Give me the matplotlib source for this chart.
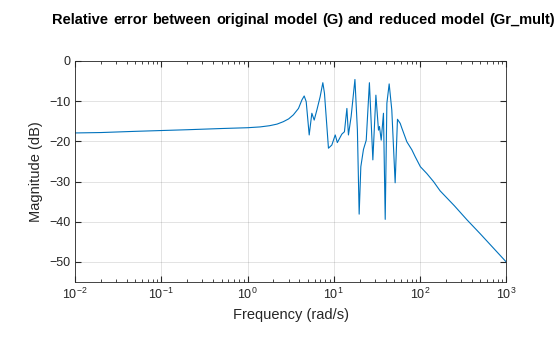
import matplotlib
matplotlib.use("Agg")
import matplotlib.pyplot as plt
import numpy as np
from matplotlib.ticker import LogLocator, NullFormatter

plt.rcParams["font.family"] = ["Liberation Sans", "DejaVu Sans"]
plt.rcParams["mathtext.default"] = "regular"

# Magnitude of the relative error G vs Gr_mult (rad/s, dB)
freq = [0.01, 0.02, 0.05, 0.1, 0.2, 0.5, 1.0, 1.4, 1.8, 2.2, 2.6, 3.0, 3.4,
        3.9, 4.27, 4.54, 4.79, 5.19, 5.57, 5.93, 6.37, 6.95, 7.47, 7.80, 8.68,
        9.50, 10.4, 11.0, 12.4, 13.3, 14.2, 14.8, 15.9, 17.6, 18.8, 19.7, 20.6,
        22.1, 23.8, 25.9, 28.4, 30.8, 33.0, 33.9, 35.5, 37.7, 39.5, 41.3, 43.9,
        47.1, 51.5, 54.8, 58.9, 61.6, 70.4, 80.5, 87.9, 101, 120, 143.5, 171,
        250, 350, 500, 700, 1000]
mag_db = [-17.9, -17.8, -17.5, -17.3, -17.1, -16.8, -16.6, -16.4, -16.1, -15.7,
          -15.1, -14.4, -13.4, -11.8, -9.7, -8.7, -10.1, -18.4, -13.0, -14.7,
          -12.2, -8.9, -5.4, -8.0, -21.7, -20.9, -18.4, -20.3, -18.2, -17.6,
          -11.8, -18.4, -13.8, -4.6, -17.2, -38.1, -26.3, -22.0, -19.7, -5.4,
          -24.6, -8.5, -17.2, -16.3, -19.7, -13.0, -39.4, -10.5, -5.7, -12.2,
          -30.3, -14.5, -15.5, -16.7, -20.1, -22.1, -23.8, -26.3, -28.0, -30.0,
          -32.3, -36.0, -39.5, -43.0, -46.4, -50.0]

title_words = ["Relative", "error", "between", "original", "model", "(G)",
               "and", "reduced", "model", "(Gr_mult)"]

fig = plt.figure(figsize=(5.6, 3.37), dpi=100)
ax = fig.add_axes([0.134, 0.163, 0.770, 0.656])

ax.semilogx(freq, mag_db, color="#0072BD", linewidth=0.8)

ax.set_xlim(1e-2, 1e3)
ax.set_ylim(-55, 0)
ax.set_yticks([-50, -40, -30, -20, -10, 0])
ax.xaxis.set_major_locator(LogLocator(base=10, numticks=10))
ax.xaxis.set_minor_locator(LogLocator(base=10, subs=np.arange(2, 10), numticks=20))
ax.xaxis.set_minor_formatter(NullFormatter())

ax.grid(True, which="major", color="#262626", alpha=0.15, linewidth=0.6)
ax.tick_params(which="both", direction="in", top=True, right=True,
               colors="#262626", labelsize=9)
ax.tick_params(which="major", length=4)
ax.tick_params(which="minor", length=2)
for s in ax.spines.values():
    s.set_color("#262626")
    s.set_linewidth(0.6)

ax.set_xlabel("Frequency (rad/s)", fontsize=10.5, color="#262626")
ax.set_ylabel("Magnitude (dB)", fontsize=10.5, color="#262626")

# justified bold title: spread the words between two pixel columns
x0, x1, ty = 52, 555, 1 - 20 / 337
renderer = fig.canvas.get_renderer()
texts = [fig.text(0, ty, w, ha="left", va="center", fontsize=10.5,
                  fontweight="bold") for w in title_words]
widths = [t.get_window_extent(renderer).width for t in texts]
gap = (x1 - x0 - sum(widths)) / (len(texts) - 1)
xpos = x0
for t, w in zip(texts, widths):
    t.set_x(xpos / 560)
    xpos += w + gap

fig.savefig("out.png", dpi=100)
